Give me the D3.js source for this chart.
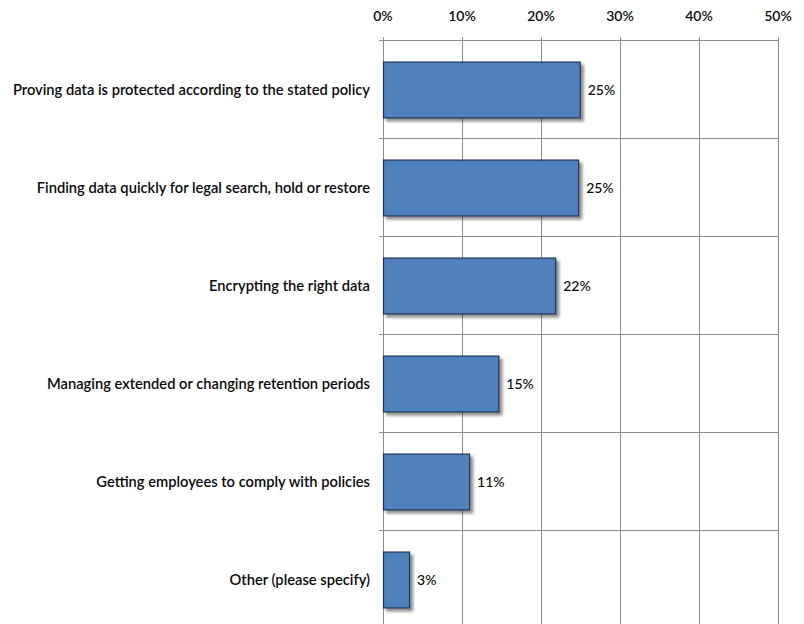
<!DOCTYPE html>
<html><head><meta charset="utf-8">
<script src="https://cdn.jsdelivr.net/npm/d3@7"></script>
<style>body{margin:0;background:#fff}svg{display:block}text{font-family:Lato,"Open Sans",sans-serif;fill:#0a0a0a}</style>
</head><body><svg id="c" width="804" height="624"></svg>
<script>
const categories = [
  "Proving data is protected according to the stated policy",
  "Finding data quickly for legal search, hold or restore",
  "Encrypting the right data",
  "Managing extended or changing retention periods",
  "Getting employees to comply with policies",
  "Other (please specify)"
];
const values = [24.9, 24.7, 21.8, 14.6, 10.9, 3.3];
const valueLabels = ["25%", "25%", "22%", "15%", "11%", "3%"];
const tickValues = [0, 10, 20, 30, 40, 50];

(function () {
const svg = d3.select("#c");
const mLeft = 383, mRight = 778, mTop = 41, bandH = 98;
const x = d3.scaleLinear().domain([0, 50]).range([mLeft, mRight]);
const y = d3.scaleBand().domain(categories).range([mTop, mTop + bandH * categories.length]).paddingInner(0.43).paddingOuter(0.215);
const yb = d3.scaleBand().domain(categories).range([mTop, mTop + bandH * categories.length]);

const defs = svg.append("defs");
const f = defs.append("filter").attr("id", "sh").attr("x", "-10%").attr("y", "-10%").attr("width", "130%").attr("height", "130%");
f.append("feDropShadow").attr("dx", 3).attr("dy", 3).attr("stdDeviation", 1.8).attr("flood-color", "#000").attr("flood-opacity", 0.45);

svg.append("g").selectAll("line").data(tickValues).join("line")
  .attr("x1", d => Math.round(x(d)) + 0.5).attr("x2", d => Math.round(x(d)) + 0.5)
  .attr("y1", mTop - 4).attr("y2", 624).attr("stroke", "#8c8c8c").attr("stroke-width", 1);
const bounds = categories.map(c => yb(c)).concat([mTop + bandH * categories.length]);
svg.append("g").selectAll("line").data(bounds).join("line")
  .attr("x1", mLeft - 4).attr("x2", mRight).attr("y1", d => Math.round(d) - 0.5).attr("y2", d => Math.round(d) - 0.5)
  .attr("stroke", "#8c8c8c").attr("stroke-width", 1);

svg.append("g").selectAll("text").data(tickValues).join("text")
  .attr("x", d => x(d)).attr("y", 21).attr("text-anchor", "middle")
  .style("font-size", "14px").style("font-weight", "600").text(d => d + "%");

svg.append("g").selectAll("rect").data(values).join("rect")
  .attr("x", x(0) + 0.5).attr("y", (d, i) => y(categories[i]))
  .attr("width", d => x(d) - x(0)).attr("height", y.bandwidth())
  .attr("fill", "#4F81BD").attr("stroke", "#1d3557").attr("stroke-width", 1.2)
  .attr("filter", "url(#sh)");

svg.append("g").selectAll("text").data(values).join("text")
  .attr("x", d => x(d) + 8).attr("y", (d, i) => y(categories[i]) + y.bandwidth() / 2)
  .attr("dy", "0.35em").style("font-size", "14px").style("font-weight", "500").text((d, i) => valueLabels[i]);

svg.append("g").selectAll("text").data(categories).join("text")
  .attr("x", 370).attr("y", d => y(d) + y.bandwidth() / 2).attr("dy", "0.35em")
  .attr("text-anchor", "end").style("font-size", "14.7px").style("font-weight", "600").text(d => d);
})();
</script></body></html>
